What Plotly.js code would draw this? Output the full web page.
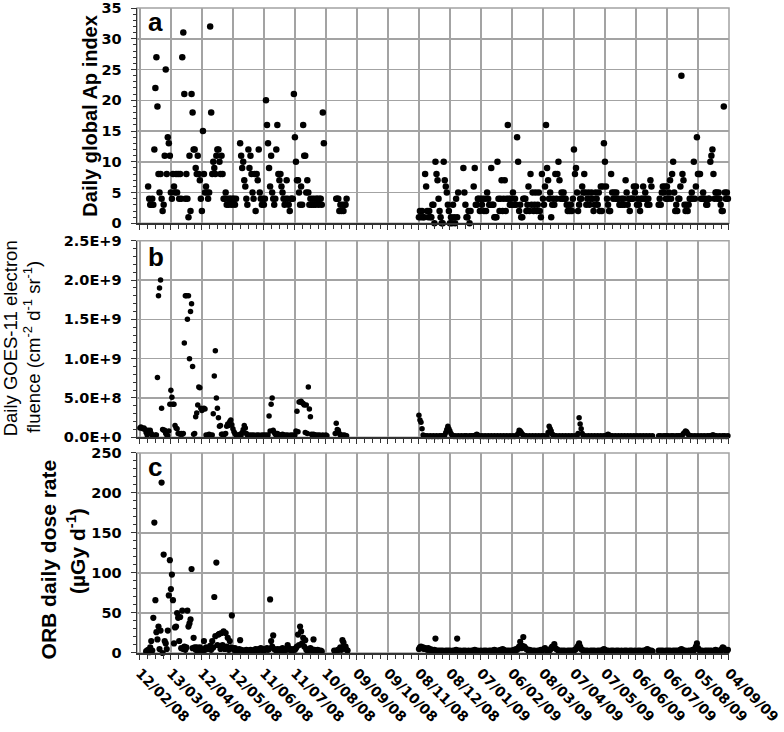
<!DOCTYPE html>
<html><head><meta charset="utf-8">
<script src="https://cdn.plot.ly/plotly-3.0.1.min.js"></script>
<style>html,body{margin:0;padding:0;background:#fff;}#chart{width:784px;height:732px;}</style>
</head><body><div id="chart"></div>
<script>
// ---- X axis ticks (30-day spacing) ----
const tickDates = ['2008-02-12','2008-03-13','2008-04-12','2008-05-12','2008-06-11','2008-07-11','2008-08-10','2008-09-09','2008-10-09','2008-11-08','2008-12-08','2009-01-07','2009-02-06','2009-03-08','2009-04-07','2009-05-07','2009-06-06','2009-07-06','2009-08-05','2009-09-04'];
const tickLabels = ['12/02/08','13/03/08','12/04/08','12/05/08','11/06/08','11/07/08','10/08/08','09/09/08','09/10/08','08/11/08','08/12/08','07/01/09','06/02/09','08/03/09','07/04/09','07/05/09','06/06/09','06/07/09','05/08/09','04/09/09'];

// ---- Y axis ticks ----
const apTicks = [0, 5, 10, 15, 20, 25, 30, 35];
const goesTicks = [0, 5e8, 1e9, 1.5e9, 2e9, 2.5e9];
const goesTickLabels = ['0.0E+0', '5.0E+8', '1.0E+9', '1.5E+9', '2.0E+9', '2.5E+9'];
const orbTicks = [0, 50, 100, 150, 200, 250];

// ---- Panel a: daily global Ap index ----
const apStart1 = '2008-02-20';
const apIndex1 = [6,4,
 3,3,4,3,12,22,27,19,8,5,
 8,4,2,3,11,25,8,14,13,11,
 5,4,8,6,5,8,5,8,4,8,
 4,27,31,21,4,8,4,1,11,2,
 21,18,12,12,9,8,11,8,7,4,
 2,15,8,5,6,5,4,5,32,18,
 8,10,9,8,11,12,12,10,8,11,
 8,4,4,5,3,4,3,4,4,3,
 4,4,3,4,null,null,null,13,11,9,
 10,7,6,4,3,12,9,11,8,5,
 4,8,2,8,7,12,5,4,3,4,
 3,4,20,16,13,9,6,11,5,4,
 3,4,12,16,8,7,8,6,5,4,
 3,4,7,4,3,2,4,4,4,21,
 14,10,7,7,5,3,6,3,16,11,
 11,5,7,5,3,4,3,4,3,4,
 3,4,4,3,4,4,3,18,13,null,
 null,null,null,null,null,null,null,null,null,null,
 4,4,4,2,3,2,3,2,3,3,4];
const apStart2 = '2008-11-08';
const apIndex2 = [
 1,2,1,2,1,1,8,6,2,1,
 2,1,1,3,3,0,10,8,7,4,
 2,1,0,0,10,7,6,5,3,2,
 0,1,0,3,1,0,4,1,5,null,
 null,null,null,9,5,3,1,1,2,0,
 2,null,null,6,9,3,3,4,4,2,
 4,3,4,2,4,2,5,4,3,3,
 9,3,3,1,1,1,10,4,2,4,
 7,2,4,7,2,4,16,4,3,4,
 3,5,3,4,3,14,10,2,3,1,
 1,4,4,4,2,3,6,2,8,3,
 5,2,3,5,2,3,5,2,1,8,
 4,3,6,16,9,7,4,5,1,3,
 4,3,8,4,8,10,7,4,5,4,
 5,4,4,3,2,3,2,3,2,4,
 12,8,9,5,2,3,4,4,6,5,
 8,5,3,4,5,3,4,5,4,2,
 3,5,4,3,5,2,6,2,6,13,
 10,6,4,3,2,2,8,5,4,5,
 4,5,4,4,3,3,4,3,4,3,
 7,5,3,4,2,4,4,4,6,5,
 6,3,4,3,2,4,4,6,4,5,
 4,3,4,3,7,6,null,null,null,null,
 null,null,3,4,3,5,6,5,6,4,
 6,4,5,7,4,8,10,5,2,3,
 2,4,4,6,24,8,7,3,2,3,
 2,3,4,4,5,4,10,4,6,14,
 8,8,8,4,4,5,4,4,3,3,
 4,4,10,11,12,8,4,5,5,4,
 5,4,3,2,2,19,5,4,5,4];

// ---- Panel b: daily GOES-11 electron fluence (cm-2 d-1 sr-1) ----
const goesStart1 = '2008-02-12';
const goesFluence1 = [
 1.2e8,1.3e8,1.2e8,1.1e8,1.2e8,1.0e8,6e7,3e7,9e7,5e7,
 9e7,5e7,3e7,2e7,2e7,3e7,3e7,7.6e8,1.8e9,1.9e9,
 2.0e9,3.7e8,1.0e8,9e7,9e7,5e7,3e7,2e7,8e7,4.2e8,
 6.0e8,5.1e8,4.2e8,4.2e8,1.5e8,1.2e8,1.1e8,5e7,5e7,4e7,
 5e7,4e7,5e7,1.2e9,1.8e9,1.8e9,1.5e9,1.8e9,1.0e9,1.6e9,
 1.7e9,9.0e8,4e7,5e7,2.6e8,3.1e8,4.1e8,6.4e8,6.3e8,3.7e8,
 3.4e8,3.6e8,3.7e8,3.6e8,3e7,2e7,3e7,4e7,3e7,2e7,
 3e7,3.0e8,7.8e8,1.1e9,5.0e8,3.7e8,2.5e8,1.4e8,1.5e8,4e7,
 4e7,3e7,4e7,5e7,1.4e8,1.7e8,1.5e8,2.0e8,2.2e8,1.6e8,
 1.1e8,7e7,5e7,3e7,2e7,3e7,2e7,4e7,3e7,6e7,
 1.0e8,1.5e8,1.2e8,5e7,3e7,2e7,3e7,2e7,3e7,2e7,
 3e7,2e7,2e7,3e7,2e7,3e7,2e7,2e7,3e7,2e7,
 3e7,2e7,3e7,2e7,3e7,2.7e8,8e7,4.2e8,5.0e8,9e7,
 6e7,4e7,3e7,5e7,4e7,3e7,2e7,3e7,4e7,3e7,
 2e7,3e7,2e7,3e7,2e7,2e7,3e7,2e7,3e7,2e7,
 3e7,8e7,3.3e8,7e7,4.5e8,4.5e8,4.6e8,4.4e8,4.3e8,4.1e8,
 6e7,4.1e8,5e7,6.4e8,3.6e8,2.6e8,4e7,3e7,4e7,3e7,
 3e7,2e7,3e7,2e7,3e7,2e7,2e7,3e7,2e7,2e7,
 3e7,2e7,null,null,null,null,null,null,null,5e7,
 1.8e8,1.0e8,9e7,5e7,3e7,2e7,3e7,2e7,3e7,2e7,2e7];
const goesStart2 = '2008-11-08';
const goesFluence2 = [
 2.8e8,2.2e8,1.9e8,1.1e8,3e7,2e7,2e7,1e7,2e7,1e7,
 1e7,2e7,1e7,1e7,2e7,1e7,1e7,2e7,1e7,1e7,
 2e7,1e7,2e7,1e7,2e7,3e7,6e7,1.0e8,1.4e8,1.1e8,
 8e7,5e7,3e7,2e7,1e7,2e7,1e7,1e7,2e7,1e7,
 1e7,2e7,1e7,1e7,2e7,1e7,2e7,1e7,1e7,2e7,
 1e7,2e7,1e7,2e7,2e7,3e7,4e7,3e7,2e7,1e7,
 1e7,2e7,1e7,1e7,2e7,1e7,1e7,2e7,1e7,1e7,
 2e7,1e7,1e7,2e7,1e7,1e7,2e7,1e7,1e7,2e7,
 1e7,1e7,2e7,1e7,1e7,2e7,1e7,1e7,2e7,1e7,
 1e7,2e7,1e7,1e7,2e7,3e7,5e7,9e7,8e7,6e7,
 4e7,3e7,2e7,1e7,2e7,1e7,1e7,2e7,1e7,1e7,
 2e7,1e7,1e7,2e7,1e7,1e7,2e7,1e7,1e7,2e7,
 1e7,2e7,1e7,1e7,2e7,6e7,1.4e8,1.1e8,8e7,4e7,
 3e7,2e7,1e7,2e7,1e7,1e7,2e7,1e7,1e7,2e7,
 1e7,1e7,2e7,1e7,1e7,2e7,1e7,1e7,2e7,1e7,
 1e7,2e7,1e7,2e7,5e7,2.5e8,1.7e8,1.1e8,5e7,2e7,
 1e7,2e7,1e7,1e7,2e7,1e7,1e7,2e7,1e7,1e7,
 2e7,1e7,1e7,2e7,1e7,1e7,2e7,1e7,1e7,2e7,
 1e7,2e7,3e7,4e7,3e7,2e7,1e7,2e7,1e7,1e7,
 2e7,1e7,1e7,2e7,1e7,1e7,2e7,1e7,1e7,2e7,
 1e7,1e7,2e7,1e7,1e7,2e7,1e7,1e7,2e7,1e7,
 1e7,2e7,1e7,1e7,2e7,1e7,1e7,2e7,1e7,1e7,
 2e7,1e7,1e7,2e7,1e7,1e7,2e7,null,null,null,
 null,null,2e7,1e7,2e7,1e7,1e7,2e7,1e7,2e7,
 1e7,2e7,1e7,1e7,2e7,1e7,2e7,1e7,1e7,2e7,
 1e7,2e7,1e7,2e7,2e7,3e7,5e7,6e7,8e7,7e7,
 5e7,3e7,2e7,1e7,2e7,1e7,1e7,2e7,1e7,1e7,
 2e7,1e7,1e7,2e7,1e7,1e7,2e7,1e7,1e7,2e7,
 1e7,2e7,1e7,2e7,3e7,3e7,2e7,1e7,2e7,1e7,
 1e7,2e7,1e7,1e7,2e7,1e7,2e7,1e7,1e7,2e7];

// ---- Panel c: ORB daily dose rate (uGy/d) ----
const orbStart1 = '2008-02-18';
const orbDose1 = [2,3,4,1,
 7,15,3,44,163,66,26,17,33,5,
 28,213,0,123,15,12,5,28,72,116,
 80,98,66,12,32,33,50,44,15,45,
 6,53,5,8,4,7,53,33,37,42,
 105,6,19,7,4,7,3,5,7,4,
 5,3,15,4,7,6,5,6,9,4,
 15,7,70,21,113,10,23,24,5,25,
 10,27,5,25,8,19,4,15,7,47,
 6,4,6,3,2,3,5,16,4,3,
 3,2,3,4,3,2,3,4,3,2,
 3,4,5,4,3,5,4,6,4,5,
 3,4,5,6,4,5,67,15,8,22,
 5,4,3,5,4,3,5,4,6,3,
 4,5,4,10,6,4,5,3,4,5,
 4,6,8,23,10,33,27,12,19,8,
 16,4,3,5,4,6,5,3,17,4,
 3,2,4,3,2,3,2,null,null,null,
 null,null,null,null,null,null,null,null,3,2,
 3,3,4,5,7,4,16,13,6,8,4,3];
const orbStart2 = '2008-11-08';
const orbDose2 = [
 5,7,8,6,7,5,6,5,4,6,
 4,5,3,4,3,4,18,3,2,3,
 2,3,2,3,2,2,3,2,3,2,
 3,2,2,3,2,3,4,18,3,2,
 3,2,2,3,2,3,2,2,3,2,
 2,3,2,3,4,3,2,3,2,2,
 3,2,2,3,2,3,2,2,3,2,
 3,2,3,4,3,2,3,2,3,4,
 3,5,4,3,2,3,2,3,2,3,
 2,3,4,3,5,4,6,8,14,6,
 9,20,8,6,5,4,3,4,3,2,
 3,2,3,2,2,3,2,3,4,3,
 4,5,6,4,3,2,3,4,6,8,
 7,11,6,5,4,3,2,3,2,3,
 2,3,2,2,3,2,3,2,3,2,
 3,4,5,7,9,12,8,5,4,3,
 2,3,2,3,2,2,3,2,3,2,
 3,2,2,3,2,3,2,3,4,5,
 4,3,2,3,2,2,3,2,3,2,
 2,3,2,3,2,2,3,2,2,3,
 2,3,2,2,3,2,3,2,2,3,
 2,2,3,2,3,2,2,3,2,3,
 4,5,4,3,2,3,2,null,null,null,
 null,null,3,2,3,2,3,2,2,3,
 2,3,2,3,2,2,3,2,3,2,
 3,2,3,4,5,4,3,2,3,2,
 2,3,2,3,2,4,3,5,8,12,
 6,4,3,2,3,2,2,3,2,3,
 2,3,2,3,2,2,3,4,3,2,
 3,2,3,5,7,6,4,3,3,4];

// ---- helpers ----
function dailyDates(start, n) {
  const t0 = Date.parse(start + 'T00:00:00Z'); const out = [];
  for (let i = 0; i < n; i++) out.push(new Date(t0 + i * 86400000).toISOString().slice(0, 10));
  return out;
}
function series(s1, v1, s2, v2) {
  return { x: dailyDates(s1, v1.length).concat(dailyDates(s2, v2.length)), y: v1.concat(v2) };
}
const FONT = 'Arial, "Liberation Sans", sans-serif';
const TICKFONT = '"DejaVu Sans", Verdana, sans-serif';
const GRID = '#a3a3a3';
const XRANGE = ['2008-02-09 05:00', '2009-09-04 01:00'];

const A = series(apStart1, apIndex1, apStart2, apIndex2);
const B = series(goesStart1, goesFluence1, goesStart2, goesFluence2);
const C = series(orbStart1, orbDose1, orbStart2, orbDose2);

const mk = (sz) => ({ color: '#000', size: sz, line: { width: 0 } });
const traces = [
  { type: 'scatter', mode: 'markers', x: A.x, y: A.y, xaxis: 'x3', yaxis: 'y3', marker: mk(6.5), cliponaxis: false, hoverinfo: 'x+y' },
  { type: 'scatter', mode: 'markers', x: B.x, y: B.y, xaxis: 'x2', yaxis: 'y2', marker: mk(5.5), cliponaxis: false, hoverinfo: 'x+y' },
  { type: 'scatter', mode: 'markers', x: C.x, y: C.y, xaxis: 'x', yaxis: 'y', marker: mk(6.2), cliponaxis: false, hoverinfo: 'x+y' }
];

function xAxis(anchor, labels) {
  return {
    anchor: anchor, domain: [0, 1], type: 'date', range: XRANGE,
    tickmode: 'array', tickvals: tickDates, ticktext: tickLabels,
    showticklabels: labels, tickangle: 45,
    tickfont: { family: TICKFONT, size: 14, color: '#000', weight: 'bold' },
    ticks: 'outside', ticklen: 5, tickwidth: 1, tickcolor: '#333',
    minor: { tickmode: 'linear', tick0: '2008-02-12', dtick: 648000000, ticks: 'outside', ticklen: 4, tickcolor: '#333', showgrid: false },
    showgrid: true, gridcolor: GRID, gridwidth: 1.5,
    showline: true, linecolor: '#333', linewidth: 1.5, zeroline: false, automargin: false
  };
}
function yAxis(anchor, domain, range, vals, text, minorDtick) {
  return {
    anchor: anchor, domain: domain, range: range,
    tickmode: 'array', tickvals: vals, ticktext: text,
    tickfont: { family: TICKFONT, size: 14.5, color: '#000', weight: 'bold' },
    ticks: 'outside', ticklen: 5, tickwidth: 1, tickcolor: '#333', ticklabelstandoff: 6,
    minor: { tickmode: 'linear', dtick: minorDtick, tick0: 0, ticks: 'outside', ticklen: 3, tickcolor: '#333', showgrid: false },
    showgrid: true, gridcolor: GRID, gridwidth: 1.5,
    showline: true, linecolor: '#333', linewidth: 1.5, zeroline: false, automargin: false
  };
}

const frame = (xr, yr) => ({ type: 'rect', xref: xr + ' domain', yref: yr + ' domain', x0: 0, x1: 1, y0: 0, y1: 1, line: { color: GRID, width: 1.5 }, layer: 'below' });
const lbl = (t, xr, yr, y) => ({ text: t, xref: xr + ' domain', yref: yr + ' domain', x: 0.015, y: y, xanchor: 'left', yanchor: 'middle', showarrow: false, font: { family: FONT, size: 26, color: '#000', weight: 'bold' } });
const ytitle = (t, x, yr, y, size, weight) => ({ text: t, xref: 'paper', yref: yr + ' domain', x: x, y: y, xanchor: 'center', yanchor: 'middle', textangle: -90, showarrow: false, font: { family: FONT, size: size, color: '#000', weight: weight } });

const layout = {
  width: 784, height: 732, margin: { l: 137, r: 55, t: 8, b: 79 },
  paper_bgcolor: '#fff', plot_bgcolor: '#fff', showlegend: false,
  xaxis: xAxis('y', true),
  xaxis2: xAxis('y2', false),
  xaxis3: xAxis('y3', false),
  yaxis: yAxis('x', [0, 0.3101], [0, 250], orbTicks, orbTicks.map(String), 10),
  yaxis2: yAxis('x2', [0.3344, 0.6392], [0, 2.5e9], goesTicks, goesTickLabels, 1e8),
  yaxis3: yAxis('x3', [0.6662, 1], [0, 35], apTicks, apTicks.map(String), 1),
  shapes: [frame('x', 'y'), frame('x2', 'y2'), frame('x3', 'y3')],
  annotations: [
    lbl('a', 'x3', 'y3', 0.934), lbl('b', 'x2', 'y2', 0.917), lbl('c', 'x', 'y', 0.93),
    ytitle('Daily global Ap index', -0.0794, 'y3', 0.5, 20, 'bold'),
    ytitle('Daily GOES-11 electron', -0.214, 'y2', 0.505, 18.5, 'normal'),
    ytitle('fluence (cm<sup>-2</sup> d<sup>-1</sup> sr<sup>-1</sup>)', -0.177, 'y2', 0.46, 18.5, 'normal'),
    ytitle('ORB daily dose rate', -0.148, 'y', 0.47, 21, 'bold'),
    ytitle('(µGy d<sup>-1</sup>)', -0.103, 'y', 0.51, 21, 'bold')
  ]
};
Plotly.newPlot('chart', traces, layout, { staticPlot: true, displayModeBar: false });
</script></body></html>
